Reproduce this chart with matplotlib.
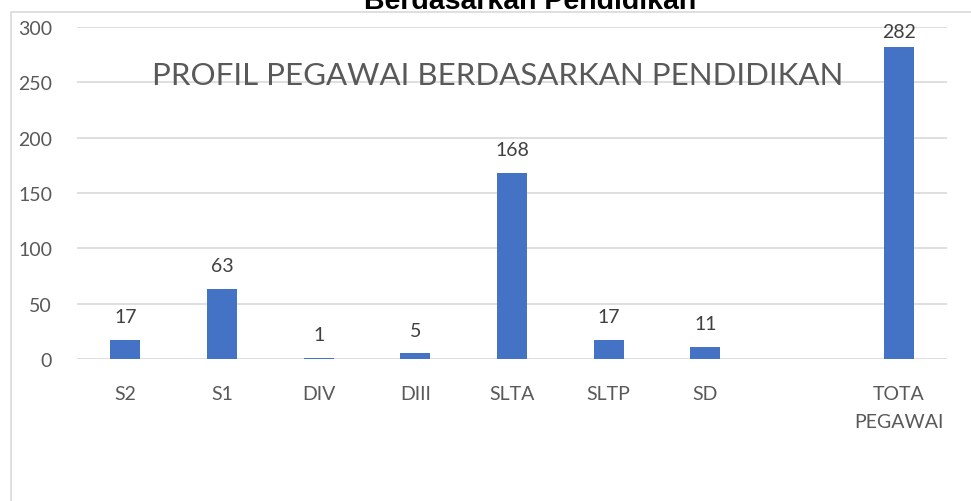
import numpy as np
import matplotlib.pyplot as plt
from matplotlib.patches import Rectangle

kategori = ['S2', 'S1', 'DIV', 'DIII', 'SLTA', 'SLTP', 'SD', '', 'TOTA\nPEGAWAI']
jumlah = [17, 63, 1, 5, 168, 17, 11, None, 282]
yticks = [0, 50, 100, 150, 200, 250, 300]

plt.rcParams['font.family'] = ['Lato', 'DejaVu Sans']
abu = '#595959'
biru = '#4472C4'

W, H = 971, 502
fig = plt.figure(figsize=(W / 100, H / 100), dpi=100)
ax = fig.add_axes([77 / W, 1 - 360 / H, 870 / W, 332 / H])

x = np.arange(len(kategori))
tinggi = [v if v is not None else 0 for v in jumlah]
ax.bar(x, tinggi, width=0.31, color=biru, zorder=3)

# label angka di atas batang, ditahan supaya tidak keluar area plot
for xi, v in zip(x, jumlah):
    if v is None:
        continue
    ax.text(xi, min(v + 13.5, 288), str(v), ha='center', va='bottom',
            fontsize=14, color='#404040')

ax.set_xlim(-0.5, len(kategori) - 0.5)
ax.set_ylim(0, 300)
ax.set_yticks(yticks)
ax.set_xticks(x)
ax.set_xticklabels(kategori, fontsize=14, color=abu, linespacing=1.75)
ax.tick_params(axis='y', labelsize=14, labelcolor=abu, length=0, pad=18)
ax.tick_params(axis='x', length=0, pad=19)
ax.grid(axis='y', color='#D9D9D9', linewidth=1.2, zorder=0)
for s in ax.spines.values():
    s.set_visible(False)

ax.text(0.483, 0.855, 'PROFIL PEGAWAI BERDASARKAN PENDIDIKAN', transform=ax.transAxes,
        ha='center', va='center', fontsize=22.5, color=abu)

# bingkai chart
fig.patches.append(Rectangle((11 / W, -0.1), 1.2, 1 - 13 / H + 0.1, transform=fig.transFigure,
                             fill=False, edgecolor='#D9D9D9', linewidth=1.2))

fig.text(530 / W, 1 - 9 / H, 'Berdasarkan Pendidikan', ha='center', va='baseline',
         fontsize=20.5, fontweight='bold', color='black', family='Liberation Sans')

fig.savefig('out.png', dpi=100)
